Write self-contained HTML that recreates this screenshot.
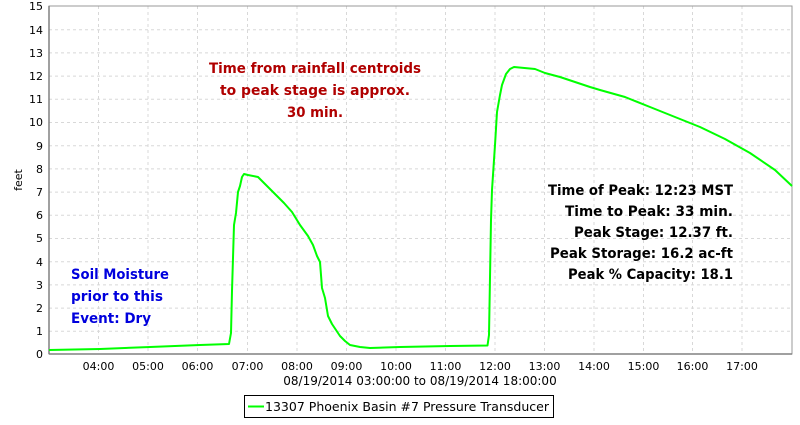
<!DOCTYPE html>
<html><head><meta charset="utf-8"><style>
body{margin:0;background:#fff;width:800px;height:420px;overflow:hidden}
text{font-family:"DejaVu Sans","Liberation Sans",sans-serif}
</style></head><body>
<svg width="800" height="420" xmlns="http://www.w3.org/2000/svg">
<g stroke="#d8d8d8" stroke-dasharray="3,3" stroke-width="1">
<line x1="49" x2="792" y1="331.3" y2="331.3"/><line x1="49" x2="792" y1="308.1" y2="308.1"/><line x1="49" x2="792" y1="284.9" y2="284.9"/><line x1="49" x2="792" y1="261.7" y2="261.7"/><line x1="49" x2="792" y1="238.5" y2="238.5"/><line x1="49" x2="792" y1="215.3" y2="215.3"/><line x1="49" x2="792" y1="192.1" y2="192.1"/><line x1="49" x2="792" y1="168.9" y2="168.9"/><line x1="49" x2="792" y1="145.7" y2="145.7"/><line x1="49" x2="792" y1="122.5" y2="122.5"/><line x1="49" x2="792" y1="99.3" y2="99.3"/><line x1="49" x2="792" y1="76.1" y2="76.1"/><line x1="49" x2="792" y1="52.9" y2="52.9"/><line x1="49" x2="792" y1="29.7" y2="29.7"/>
<line y1="6" y2="354" x1="98.5" x2="98.5"/><line y1="6" y2="354" x1="148" x2="148"/><line y1="6" y2="354" x1="197.5" x2="197.5"/><line y1="6" y2="354" x1="247.5" x2="247.5"/><line y1="6" y2="354" x1="297" x2="297"/><line y1="6" y2="354" x1="346.5" x2="346.5"/><line y1="6" y2="354" x1="396" x2="396"/><line y1="6" y2="354" x1="445.5" x2="445.5"/><line y1="6" y2="354" x1="495" x2="495"/><line y1="6" y2="354" x1="544.5" x2="544.5"/><line y1="6" y2="354" x1="594" x2="594"/><line y1="6" y2="354" x1="643.5" x2="643.5"/><line y1="6" y2="354" x1="692.5" x2="692.5"/><line y1="6" y2="354" x1="742" x2="742"/>
</g>
<rect x="49" y="6" width="743" height="348" fill="none" stroke="#999" stroke-width="1"/>
<line x1="49" y1="6" x2="49" y2="354" stroke="#808080" stroke-width="1.5"/>
<line x1="49" y1="354" x2="792" y2="354" stroke="#808080" stroke-width="1.5"/>
<g font-size="11" fill="#000" text-anchor="end">
<text x="43" y="358">0</text><text x="43" y="335">1</text><text x="43" y="312">2</text><text x="43" y="289">3</text><text x="43" y="266">4</text><text x="43" y="242">5</text><text x="43" y="219">6</text><text x="43" y="196">7</text><text x="43" y="173">8</text><text x="43" y="150">9</text><text x="43" y="126">10</text><text x="43" y="103">11</text><text x="43" y="80">12</text><text x="43" y="57">13</text><text x="43" y="34">14</text><text x="43" y="10">15</text>
</g>
<g font-size="11" fill="#000" text-anchor="middle">
<text x="98.5" y="370">04:00</text><text x="148" y="370">05:00</text><text x="197.5" y="370">06:00</text><text x="247.5" y="370">07:00</text><text x="297" y="370">08:00</text><text x="346.5" y="370">09:00</text><text x="396" y="370">10:00</text><text x="445.5" y="370">11:00</text><text x="495" y="370">12:00</text><text x="544.5" y="370">13:00</text><text x="594" y="370">14:00</text><text x="643.5" y="370">15:00</text><text x="692.5" y="370">16:00</text><text x="742" y="370">17:00</text>
<text x="420" y="385" font-size="12">08/19/2014 03:00:00 to 08/19/2014 18:00:00</text>
</g>
<text x="22" y="180" font-size="11" text-anchor="middle" transform="rotate(-90 22 180)">feet</text>
<polyline fill="none" stroke="#00ff00" stroke-width="2" stroke-linejoin="round" points="49,350 100,349 150,347 200,345 229,344 231,333 232,291 234,225 236,213 238,192 240,186 242,177 244,174 248,175 258,177 264,183 272,191 284,203 292,212 300,225 308,236 313,245 317,256 320,262 322,288 325,298 328,316 332,324 336,330 340,336 345,341 350,345 360,347 370,348 400,347 450,346 487.5,345.5 489,335 491,220 492,190 495,145 497,112 500,95 502,85 506,74 510,69 514,67 535,69 545,73 560,77 575,82 590,87 600,90 625,97 650,107 675,117 700,127 725,139 750,153 775,170 792,186"/>
<g font-size="14" font-weight="bold" fill="#b00000" text-anchor="middle">
<text x="315" y="73" textLength="212" lengthAdjust="spacingAndGlyphs">Time from rainfall centroids</text>
<text x="315" y="95" textLength="190" lengthAdjust="spacingAndGlyphs">to peak stage is approx.</text>
<text x="315" y="117" textLength="56" lengthAdjust="spacingAndGlyphs">30 min.</text>
</g>
<g font-size="14" font-weight="bold" fill="#0000dd">
<text x="71" y="279" textLength="98" lengthAdjust="spacingAndGlyphs">Soil Moisture</text>
<text x="71" y="301" textLength="92" lengthAdjust="spacingAndGlyphs">prior to this</text>
<text x="71" y="323" textLength="80" lengthAdjust="spacingAndGlyphs">Event: Dry</text>
</g>
<g font-size="14" font-weight="bold" fill="#000" text-anchor="end">
<text x="733" y="195" textLength="185" lengthAdjust="spacingAndGlyphs">Time of Peak: 12:23 MST</text>
<text x="733" y="216" textLength="168" lengthAdjust="spacingAndGlyphs">Time to Peak: 33 min.</text>
<text x="733" y="237" textLength="159" lengthAdjust="spacingAndGlyphs">Peak Stage: 12.37 ft.</text>
<text x="733" y="258" textLength="183" lengthAdjust="spacingAndGlyphs">Peak Storage: 16.2 ac-ft</text>
<text x="733" y="279" textLength="165" lengthAdjust="spacingAndGlyphs">Peak % Capacity: 18.1</text>
</g>
<rect x="244.5" y="395.5" width="309" height="22" fill="#fff" stroke="#000" stroke-width="1"/>
<line x1="248" y1="406.5" x2="264" y2="406.5" stroke="#00ff00" stroke-width="2"/>
<text x="265" y="411" font-size="12" fill="#000" textLength="284" lengthAdjust="spacingAndGlyphs">13307 Phoenix Basin #7 Pressure Transducer</text>
</svg>
</body></html>
